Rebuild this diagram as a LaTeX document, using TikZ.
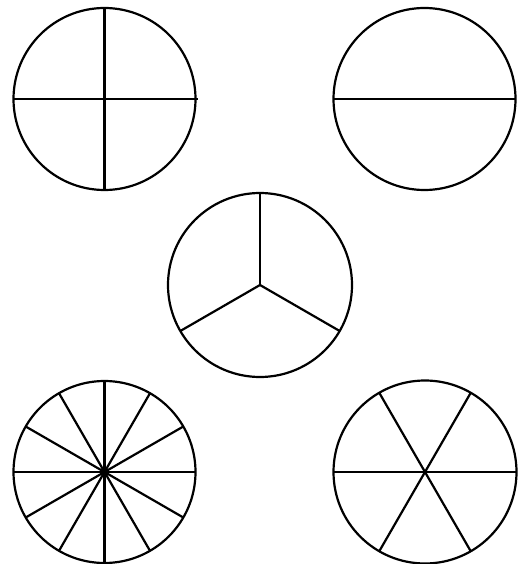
\documentclass[tikz,border=0pt]{standalone}
\begin{document}
\begin{tikzpicture}[x=1pt,y=-1pt,line width=2.2pt,
  rim/.style={draw=black},
  spoke/.style={draw=black,line cap=butt}]
\useasboundingbox (0,0) rectangle (522,564);
% top-left: quarters
\draw[rim] (104.5,99) circle[radius=91];
\draw[spoke] (13.5,99) -- (198,99);
\draw[spoke] (104.5,8) -- (104.5,190);
% top-right: halves
\draw[rim] (424.5,99) circle[radius=91];
\draw[spoke] (333.5,99) -- (515.5,99);
% middle: thirds
\draw[rim] (260,285) circle[radius=92];
\foreach \a in {90,210,330}
  \draw[spoke] (260,285) -- ++(\a:92 and -92);
% bottom-left: twelfths
\draw[rim] (104.5,472) circle[radius=91];
\foreach \a in {0,30,...,330}
  \draw[spoke] (104.5,472) -- ++(\a:91);
% bottom-right: sixths
\draw[rim] (425,472) circle[radius=91.5];
\foreach \a in {0,60,...,300}
  \draw[spoke] (425,472) -- ++(\a:91.5);
\end{tikzpicture}
\end{document}
